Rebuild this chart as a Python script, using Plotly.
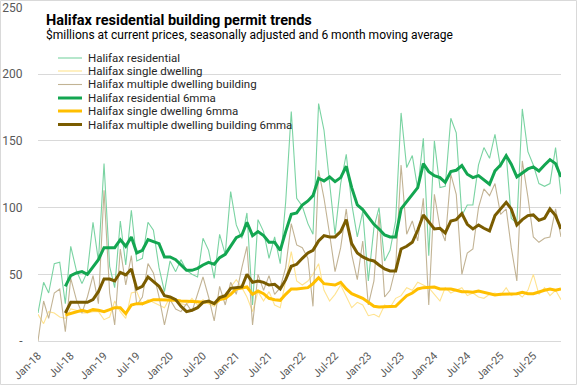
import plotly.graph_objects as go
import pandas as pd

months = pd.date_range("2018-01-01", periods=96, freq="MS")

residential = [21, 44, 36, 58, 59, 28, 71, 53, 43, 52, 89, 60, 133, 56, 40, 90, 57, 98, 60, 62,
               89, 83, 55, 37, 60, 52, 61, 53, 50, 48, 77, 68, 47, 80, 65, 112, 87, 77, 96, 27,
               91, 82, 62, 78, 58, 104, 172, 107, 101, 88, 80, 178, 158, 118, 80, 118, 140, 103, 78, 97,
               45, 85, 100, 60, 68, 90, 171, 130, 139, 114, 152, 64, 150, 115, 116, 167, 156, 94, 102, 102,
               132, 145, 137, 155, 130, 140, 92, 88, 174, 142, 132, 118, 116, 118, 145, 110]

single = [20, 13, 22, 21, 18, 17, 24, 23, 21, 21, 22, 22, 16, 18, 30, 22, 17, 36, 37, 27,
          31, 29, 27, 25, 33, 31, 28, 27, 32, 27, 31, 28, 26, 30, 35, 40, 46, 40, 33, 22,
          37, 30, 37, 27, 25, 45, 67, 45, 42, 45, 50, 58, 38, 30, 35, 42, 33, 25, 29, 27,
          19, 20, 18, 27, 25, 32, 34, 40, 38, 44, 42, 40, 35, 30, 40, 36, 38, 40, 34, 36,
          33, 32, 35, 36, 34, 40, 34, 36, 33, 38, 50, 35, 40, 34, 38, 31]

multiple = [0, 30, 17, 36, 39, 7, 47, 31, 21, 33, 49, 28, 113, 36, 12, 69, 42, 64, 27, 33,
            58, 51, 33, 12, 31, 24, 22, 28, 22, 36, 48, 33, 15, 41, 27, 44, 35, 55, 71, 12,
            50, 38, 49, 35, 40, 55, 88, 72, 70, 62, 26, 128, 107, 80, 52, 70, 99, 65, 46, 75,
            27, 45, 95, 33, 38, 55, 132, 80, 90, 75, 107, 27, 110, 85, 75, 125, 110, 50, 66, 69,
            100, 114, 109, 118, 95, 99, 70, 45, 135, 108, 78, 74, 77, 78, 99, 78]

residential_6mma = [None] * 5 + [
    41, 49, 51, 52, 50, 56, 61, 70, 70, 70, 76, 71, 78, 66, 68,
    76, 74.5, 73, 63, 63, 61, 57, 53, 53, 54.5, 57, 59, 57.5, 62.5, 65, 71, 77.5, 79.5, 89, 79,
    82, 79, 74, 74, 68, 82, 95, 96, 102, 105, 109, 122, 120, 123, 119.5, 122.5, 131, 115, 102, 98.5,
    93, 87.5, 84, 79.5, 78, 78, 99, 104.5, 110, 115, 133, 127, 124, 122.5, 119, 127, 128, 131.5, 125, 122.5,
    124, 120.5, 117.5, 127.5, 132, 139, 132.5, 123, 126, 129, 130.5, 127.5, 132, 136, 133, 123]

single_6mma = [None] * 5 + [
    19.5, 20.5, 22, 23, 22, 23.5, 23, 22, 23.5, 25, 25, 20.5, 27, 28, 28,
    29.5, 31, 31, 31, 30.5, 30.5, 30, 30, 29.5, 29.5, 29, 29.5, 28, 31, 32, 35, 39, 40, 40.5, 35,
    37.5, 35.5, 32, 31, 30.5, 35, 39, 39, 39.5, 40, 43, 47.5, 43, 42.5, 42, 44, 39, 35.5, 34, 32,
    29, 26, 25.5, 25.5, 25.5, 26, 30, 34, 36, 39, 40, 40, 40.5, 39, 39, 39, 38, 37, 37, 36.5,
    37.5, 36.5, 35, 34.5, 35, 35, 35.5, 35.5, 36.5, 35.5, 35.5, 37, 38, 39, 38, 39, 39]

multiple_6mma = [None] * 5 + [
    21, 29, 29, 29, 29, 31, 37, 46.5, 46.5, 45, 51.5, 49.5, 54, 39, 41,
    48, 44.5, 41, 34, 33, 31, 26, 22, 23, 25, 29, 30, 28, 32.5, 34, 39.5, 40, 40.5, 50, 44,
    45, 44, 42, 42.5, 39, 46, 56, 57.5, 62, 66, 68, 75, 79, 78, 78, 82, 91, 73, 66, 63,
    61, 60, 57, 54, 52.5, 52.5, 69, 71, 74, 83, 94.5, 89, 84, 84.5, 81, 90, 91, 95.5, 87.5, 84,
    87, 84.5, 82.5, 94, 99, 104, 99, 87, 91, 94, 94.5, 90.5, 92, 99, 94, 84]

series_names = ["Halifax residential", "Halifax single dwelling", "Halifax multiple dwelling building",
                "Halifax residential 6mma", "Halifax single dwelling 6mma",
                "Halifax multiple dwelling building 6mma"]

tick_labels = ["Jan-18", "Jul-18", "Jan-19", "Jul-19", "Jan-20", "Jul-20", "Jan-21", "Jul-21",
               "Jan-22", "Jul-22", "Jan-23", "Jul-23", "Jan-24", "Jul-24", "Jan-25", "Jul-25"]
tick_dates = pd.date_range("2018-01-01", periods=len(tick_labels), freq="6MS")

y_ticks = [0, 50, 100, 150, 200, 250]
y_tick_text = ["-", "50", "100", "150", "200", "250"]

FONT = "Roboto, Liberation Sans, sans-serif"

# plot area in pixels
W, H = 577, 385
L, R, T, B = 38, 561, 7, 341
YMAX = 250.4


def px(x):
    return (x - L) / (R - L)


def py(y):
    return (B - y) / (B - T)


colors = ["#7AD3A2", "#FFE38F", "#C2B394", "#13A651", "#FFBF00", "#7A5C00"]
widths = [1.1, 1.1, 1.1, 3, 3, 3]
values = [residential, single, multiple, residential_6mma, single_6mma, multiple_6mma]

fig = go.Figure()
for name, vals, col, w in zip(series_names, values, colors, widths):
    fig.add_trace(go.Scatter(x=months, y=vals, name=name, mode="lines",
                             line=dict(color=col, width=w), connectgaps=False,
                             showlegend=False))

# custom legend (line samples + labels)
shapes = [dict(type="rect", xref="paper", yref="paper",
               x0=px(0.5), x1=px(576.5), y0=py(384.5), y1=py(0.5),
               line=dict(color="#D9D9D9", width=1), layer="below")]
annotations = [
    dict(text="<b>Halifax residential building permit trends</b>", x=px(44), y=py(20),
         xref="paper", yref="paper", xanchor="left", yanchor="middle", showarrow=False,
         font=dict(family=FONT, size=14.5, color="#000000")),
    dict(text="$millions at current prices, seasonally adjusted and 6 month moving average",
         x=px(44), y=py(34.5), xref="paper", yref="paper", xanchor="left", yanchor="middle",
         showarrow=False, font=dict(family=FONT, size=12, color="#000000")),
]
row_y = [58, 71, 84.5, 98, 111, 124.5]
for name, col, w, yy in zip(series_names, colors, widths, row_y):
    shapes.append(dict(type="line", xref="paper", yref="paper", x0=px(58), x1=px(82),
                       y0=py(yy), y1=py(yy), line=dict(color=col, width=w)))
    annotations.append(dict(text=name, x=px(86), y=py(yy), xref="paper", yref="paper",
                            xanchor="left", yanchor="middle", showarrow=False,
                            font=dict(family=FONT, size=11.5, color="#262626")))

fig.update_layout(
    width=W, height=H,
    margin=dict(l=L, r=W - R, t=T, b=H - B, autoexpand=False),
    paper_bgcolor="white", plot_bgcolor="white",
    font=dict(family=FONT, size=12, color="#404040"),
    showlegend=False,
    xaxis=dict(range=[months[0], months[-1]], tickvals=tick_dates, ticktext=tick_labels,
               tickangle=-45, showgrid=False, showline=True, linecolor="#D9D9D9",
               ticks="outside", ticklen=3, tickcolor="rgba(0,0,0,0)", automargin=False,
               tickfont=dict(family=FONT, size=11, color="#595959")),
    yaxis=dict(range=[0, YMAX], tickvals=y_ticks, ticktext=y_tick_text,
               showgrid=True, gridcolor="#D9D9D9", gridwidth=1, zeroline=False,
               showline=False, ticks="outside", ticklen=12, tickcolor="rgba(0,0,0,0)",
               automargin=False,
               tickfont=dict(family=FONT, size=12, color="#595959")),
    annotations=annotations,
    shapes=shapes,
)

fig.write_html("out.html", config={"displayModeBar": False},
               post_script="document.body.style.margin='0';")
